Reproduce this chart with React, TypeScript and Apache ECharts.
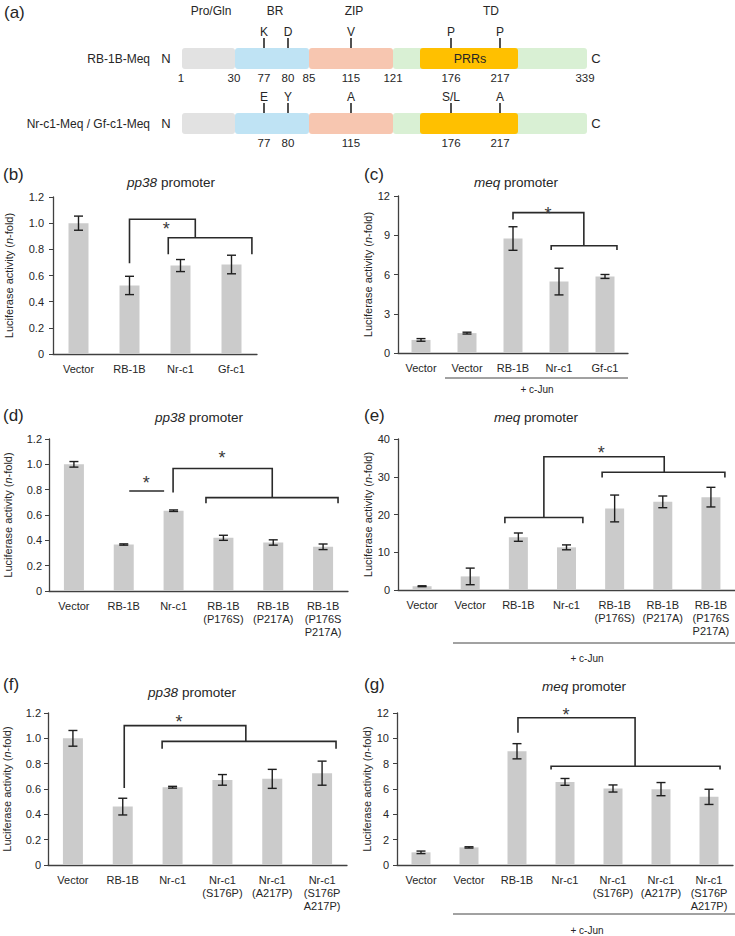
import React, { useEffect, useRef } from 'react';
import * as echarts from 'echarts';

const FONT = '"Liberation Sans", Arial, Helvetica, sans-serif';
const INK = '#262626';
const BAR = '#cbcbcb';

// ---- (a) Meq domain map ----
const domainNames = ['Pro/Gln', 'BR', 'ZIP', 'TD'];
const boundaryResidues = [1, 30, 77, 80, 85, 115, 121, 176, 217, 339];
const siteResidues = [77, 80, 115, 176, 217];
const rb1bSites = ['K', 'D', 'V', 'P', 'P'];
const vvSites = ['E', 'Y', 'A', 'S/L', 'A'];

// ---- (b) pp38 promoter ----
const catsB = ['Vector', 'RB-1B', 'Nr-c1', 'Gf-c1'];
const meanB = [1.0, 0.524, 0.676, 0.684];
const sdB = [0.054, 0.07, 0.046, 0.071];
const bracketsB = [
  [[1, 0.693], [1, 1.03], [2.29, 1.03], [2.29, 0.889]],
  [[1.76, 0.762], [1.76, 0.889], [3.4, 0.889], [3.4, 0.762]],
];
const starsB = [[1.72, 0.99]];

// ---- (c) meq promoter ----
const catsC = ['Vector', 'Vector', 'RB-1B', 'Nr-c1', 'Gf-c1'];
const meanC = [1.0, 1.52, 8.75, 5.46, 5.85];
const sdC = [0.1, 0.07, 0.9, 1.02, 0.15];
const bracketsC = [
  [[2, 10.2], [2, 10.73], [3.54, 10.73], [3.54, 8.2]],
  [[2.83, 7.88], [2.83, 8.2], [4.26, 8.2], [4.26, 7.88]],
];
const starsC = [[2.76, 11.0]];

// ---- (d) pp38 promoter, RB-1B point mutants ----
const catsD = ['Vector', 'RB-1B', 'Nr-c1', 'RB-1B\n(P176S)', 'RB-1B\n(P217A)', 'RB-1B\n(P176S\nP217A)'];
const meanD = [1.0, 0.367, 0.634, 0.42, 0.383, 0.349];
const sdD = [0.022, 0.005, 0.006, 0.02, 0.021, 0.022];
const bracketsD = [
  [[1.11, 0.79], [1.81, 0.79]],
  [[1.99, 0.777], [1.99, 0.967], [3.98, 0.967], [3.98, 0.737]],
  [[2.65, 0.693], [2.65, 0.737], [5.3, 0.737], [5.3, 0.693]],
];
const starsD = [[1.45, 0.89], [2.97, 1.09]];

// ---- (e) meq promoter, RB-1B point mutants ----
const catsE = ['Vector', 'Vector', 'RB-1B', 'Nr-c1', 'RB-1B\n(P176S)', 'RB-1B\n(P217A)', 'RB-1B\n(P176S\nP217A)'];
const meanE = [1.0, 3.6, 14.0, 11.3, 21.6, 23.35, 24.6];
const sdE = [0.12, 2.2, 1.1, 0.65, 3.55, 1.55, 2.6];
const bracketsE = [
  [[1.72, 17.7], [1.72, 19.2], [3.34, 19.2], [3.34, 17.7]],
  [[2.53, 19.2], [2.53, 35.3], [5.03, 35.3], [5.03, 31.2]],
  [[3.74, 29.8], [3.74, 31.2], [6.29, 31.2], [6.29, 29.8]],
];
const starsE = [[3.72, 37.5]];

// ---- (f) pp38 promoter, Nr-c1 point mutants ----
const catsF = ['Vector', 'RB-1B', 'Nr-c1', 'Nr-c1\n(S176P)', 'Nr-c1\n(A217P)', 'Nr-c1\n(S176P\nA217P)'];
const meanF = [1.0, 0.461, 0.614, 0.672, 0.68, 0.725];
const sdF = [0.062, 0.066, 0.007, 0.042, 0.075, 0.095];
const bracketsF = [
  [[1.03, 0.607], [1.03, 1.1], [3.47, 1.1], [3.47, 0.976]],
  [[1.79, 0.918], [1.79, 0.976], [5.28, 0.976], [5.28, 0.918]],
];
const starsF = [[2.13, 1.17]];

// ---- (g) meq promoter, Nr-c1 point mutants ----
const catsG = ['Vector', 'Vector', 'RB-1B', 'Nr-c1', 'Nr-c1\n(S176P)', 'Nr-c1\n(A217P)', 'Nr-c1\n(S176P\nA217P)'];
const meanG = [1.0, 1.39, 8.98, 6.56, 6.04, 5.99, 5.38];
const sdG = [0.1, 0.05, 0.6, 0.27, 0.28, 0.52, 0.6];
const bracketsG = [
  [[2.02, 10.45], [2.02, 11.63], [4.46, 11.63], [4.46, 7.8]],
  [[2.71, 7.54], [2.71, 7.8], [6.23, 7.8], [6.23, 7.54]],
];
const starsG = [[3.02, 12.2]];

type Panel = {
  cats: string[];
  mean: number[];
  sd: number[];
  max: number;
  step: number;
  decimals: boolean;
  grid: { left: number; top: number; width: number; height: number };
  barWidth: number;
  nameGap: number;
  labelMargin: number;
  brackets: number[][][];
  stars: number[][];
};

const panels: Panel[] = [
  { cats: catsB, mean: meanB, sd: sdB, max: 1.2, step: 0.2, decimals: true,
    grid: { left: 53, top: 197, width: 204, height: 157 }, barWidth: 20, nameGap: 39, labelMargin: 9,
    brackets: bracketsB, stars: starsB },
  { cats: catsC, mean: meanC, sd: sdC, max: 12, step: 3, decimals: false,
    grid: { left: 398, top: 196, width: 230, height: 157 }, barWidth: 19, nameGap: 22, labelMargin: 8,
    brackets: bracketsC, stars: starsC },
  { cats: catsD, mean: meanD, sd: sdD, max: 1.2, step: 0.2, decimals: true,
    grid: { left: 49, top: 439, width: 299, height: 152 }, barWidth: 20, nameGap: 36, labelMargin: 7,
    brackets: bracketsD, stars: starsD },
  { cats: catsE, mean: meanE, sd: sdE, max: 40, step: 10, decimals: false,
    grid: { left: 398, top: 439, width: 337, height: 151 }, barWidth: 19, nameGap: 23, labelMargin: 8,
    brackets: bracketsE, stars: starsE },
  { cats: catsF, mean: meanF, sd: sdF, max: 1.2, step: 0.2, decimals: true,
    grid: { left: 48, top: 713, width: 299, height: 152 }, barWidth: 20, nameGap: 36, labelMargin: 7,
    brackets: bracketsF, stars: starsF },
  { cats: catsG, mean: meanG, sd: sdG, max: 12, step: 2, decimals: false,
    grid: { left: 397, top: 713, width: 336, height: 152 }, barWidth: 19, nameGap: 23, labelMargin: 8,
    brackets: bracketsG, stars: starsG },
];

// panel letters, titles and "+ c-Jun" annotations
const panelLetters = ['(a)', '(b)', '(c)', '(d)', '(e)', '(f)', '(g)'];
const letterPos = [[4, 12], [3, 174], [364, 174], [3, 415], [364, 415], [3, 684], [364, 684]];
const titleGene = ['pp38', 'meq', 'pp38', 'meq', 'pp38', 'meq'];
const titlePos = [[171, 182], [516, 182], [199, 417], [536, 417], [192, 692], [584, 686]];
const cJunLines = [
  { x1: 445, x2: 628, y: 378, tx: 537, ty: 389 },
  { x1: 453, x2: 735, y: 643, tx: 587, ty: 658 },
  { x1: 453, x2: 735, y: 914, tx: 587, ty: 930 },
];

function text(x: number, y: number, s: string, size: number, align = 'center', extra: any = {}) {
  return {
    type: 'text',
    x,
    y,
    silent: true,
    style: {
      text: s,
      fontSize: size,
      fontFamily: FONT,
      fill: INK,
      align,
      verticalAlign: 'middle',
      ...extra,
    },
  };
}

function domainMap() {
  const els: any[] = [];
  // schematic x position of each residue landmark
  const rx: Record<number, number> = {
    1: 181, 30: 234, 77: 264, 80: 288, 85: 309, 115: 351, 121: 393, 176: 451, 217: 500, 339: 585,
  };
  const domainX = [211, 275, 354, 491];
  domainNames.forEach((n, i) => els.push(text(domainX[i], 11, n, 12)));

  const rows = [
    { label: 'RB-1B-Meq', top: 48, sites: rb1bSites, numbers: boundaryResidues },
    { label: 'Nr-c1-Meq / Gf-c1-Meq', top: 113, sites: vvSites, numbers: siteResidues },
  ];
  const segs = [
    { x1: 182, x2: 235, color: '#e2e2e2' },
    { x1: 235, x2: 309, color: '#bfe3f4' },
    { x1: 309, x2: 393, color: '#f7c6b0' },
    { x1: 393, x2: 587, color: '#d9f0d4' },
    { x1: 420, x2: 518, color: '#ffc000' },
  ];
  const h = 21;
  rows.forEach((row) => {
    segs.forEach((s) => {
      els.push({
        type: 'rect',
        silent: true,
        shape: { x: s.x1, y: row.top, width: s.x2 - s.x1, height: h, r: 3 },
        style: { fill: s.color },
      });
    });
    els.push(text(150, row.top + 10.5, row.label, 12, 'right'));
    els.push(text(166, row.top + 10.5, 'N', 13));
    els.push(text(596, row.top + 10.5, 'C', 13));
    siteResidues.forEach((r, i) => {
      const x = rx[r];
      els.push({
        type: 'line',
        silent: true,
        shape: { x1: x, y1: row.top - 10, x2: x, y2: row.top },
        style: { stroke: INK, lineWidth: 1.6 },
      });
      els.push(text(x, row.top - 16, row.sites[i], 12));
    });
    row.numbers.forEach((r) => {
      els.push(text(rx[r], row.top + 30, String(r), 11.5));
    });
  });
  els.push(text(470, 48 + 10.5, 'PRRs', 12.5));
  return els;
}

function buildOption() {
  const grids: any[] = [];
  const xAxes: any[] = [];
  const yAxes: any[] = [];
  const series: any[] = [];

  panels.forEach((p, k) => {
    grids.push({ ...p.grid, containLabel: false, outerBoundsMode: 'none' });
    xAxes.push({
      type: 'category',
      gridIndex: k,
      data: p.cats,
      axisLine: { show: true, lineStyle: { color: '#404040', width: 1.3 } },
      axisTick: { show: false },
      axisLabel: {
        interval: 0,
        color: INK,
        fontSize: 11,
        fontFamily: FONT,
        lineHeight: 13,
        margin: 8,
      },
      splitLine: { show: false },
    });
    yAxes.push({
      type: 'value',
      gridIndex: k,
      min: 0,
      max: p.max,
      interval: p.step,
      name: 'Luciferase activity ({i|n}-fold)',
      nameLocation: 'middle',
      nameGap: p.nameGap,
      nameTextStyle: {
        color: INK,
        fontSize: 11,
        fontFamily: FONT,
        rich: { i: { fontStyle: 'italic', fontSize: 11, fontFamily: FONT, color: INK } },
      },
      axisLine: { show: true, lineStyle: { color: '#404040', width: 1.3 } },
      axisTick: { show: true, length: 4, lineStyle: { color: '#404040', width: 1 } },
      axisLabel: {
        color: INK,
        fontSize: 11,
        fontFamily: FONT,
        margin: p.labelMargin,
        formatter: (v: number) => (v === 0 ? '0' : p.decimals ? v.toFixed(1) : String(v)),
      },
      splitLine: { show: false },
    });

    series.push({
      type: 'bar',
      xAxisIndex: k,
      yAxisIndex: k,
      data: p.mean,
      barWidth: p.barWidth,
      itemStyle: { color: BAR },
      silent: true,
      z: 2,
    });

    // mean ± SD whiskers
    series.push({
      type: 'custom',
      xAxisIndex: k,
      yAxisIndex: k,
      data: p.mean.map((m, i) => [i, m - p.sd[i], m + p.sd[i]]),
      encode: { x: 0, y: [1, 2] },
      silent: true,
      z: 3,
      renderItem: (_params: any, api: any) => {
        const x = api.value(0);
        const lo = api.coord([x, api.value(1)]);
        const hi = api.coord([x, api.value(2)]);
        const w = 4.5;
        const st = { stroke: '#1e1e1e', lineWidth: 1.4 };
        return {
          type: 'group',
          children: [
            { type: 'line', shape: { x1: lo[0], y1: lo[1], x2: hi[0], y2: hi[1] }, style: st },
            { type: 'line', shape: { x1: lo[0] - w, y1: lo[1], x2: lo[0] + w, y2: lo[1] }, style: st },
            { type: 'line', shape: { x1: hi[0] - w, y1: hi[1], x2: hi[0] + w, y2: hi[1] }, style: st },
          ],
        };
      },
    });

    // significance brackets and asterisks, positioned in category/value units
    const marks: any[] = [
      ...p.brackets.map((pts) => ({ pts })),
      ...p.stars.map((s) => ({ star: s })),
    ];
    series.push({
      type: 'custom',
      xAxisIndex: k,
      yAxisIndex: k,
      data: marks.map(() => [0, 0]),
      encode: { x: 0, y: 1 },
      silent: true,
      clip: false,
      z: 4,
      renderItem: (params: any, api: any) => {
        const m = marks[params.dataIndex];
        const base = api.coord([0, 0]);
        const bw = api.size([1, 0])[0];
        const px = (q: number[]) => [base[0] + q[0] * bw, api.coord([0, q[1]])[1]];
        if (m.star) {
          const c = px(m.star);
          return {
            type: 'text',
            style: {
              text: '*',
              x: c[0],
              y: c[1] + 5,
              fill: '#3a3a3a',
              fontSize: 18,
              fontFamily: FONT,
              align: 'center',
              verticalAlign: 'middle',
            },
          };
        }
        return {
          type: 'polyline',
          shape: { points: m.pts.map(px) },
          style: { stroke: '#2a2a2a', lineWidth: 1.6, fill: null },
        };
      },
    });
  });

  const graphics: any[] = [...domainMap()];
  panelLetters.forEach((l, i) => {
    graphics.push(text(letterPos[i][0], letterPos[i][1], l, 17, 'left'));
  });
  titleGene.forEach((g, i) => {
    graphics.push(
      text(titlePos[i][0], titlePos[i][1], `{i|${g}} promoter`, 13.5, 'center', {
        rich: { i: { fontStyle: 'italic', fontSize: 13.5, fontFamily: FONT, fill: INK } },
      })
    );
  });
  cJunLines.forEach((c) => {
    graphics.push({
      type: 'line',
      silent: true,
      shape: { x1: c.x1, y1: c.y, x2: c.x2, y2: c.y },
      style: { stroke: '#444', lineWidth: 1 },
    });
    graphics.push(text(c.tx, c.ty, '+ c-Jun', 10));
  });

  return {
    animation: false,
    backgroundColor: '#ffffff',
    grid: grids,
    xAxis: xAxes,
    yAxis: yAxes,
    series,
    graphic: { elements: graphics },
  };
}

export default function App() {
  const ref = useRef<HTMLDivElement>(null);
  useEffect(() => {
    if (!ref.current) return;
    const chart = echarts.init(ref.current, null, { renderer: 'svg' });
    chart.setOption(buildOption());
    return () => chart.dispose();
  }, []);
  return (
    <div
      ref={ref}
      style={{ position: 'absolute', left: 0, top: 0, width: 735, height: 936, background: '#fff' }}
    />
  );
}
